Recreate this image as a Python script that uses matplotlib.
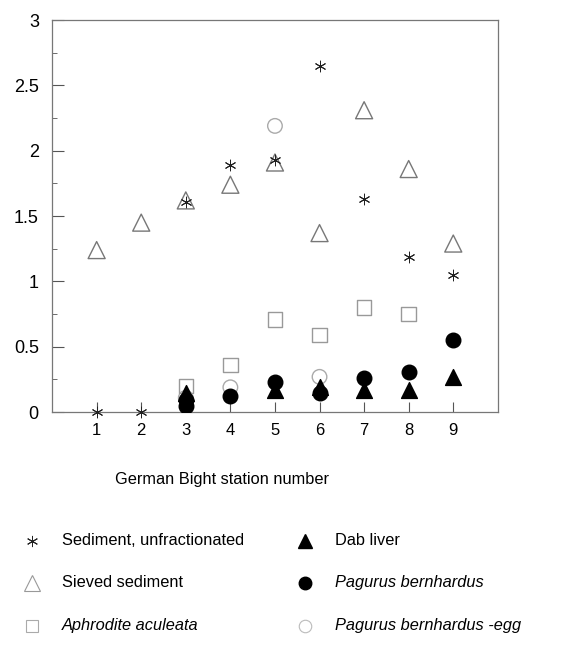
import numpy as np
import matplotlib.pyplot as plt
from matplotlib.lines import Line2D

plt.rcParams['font.family'] = ['Liberation Sans', 'DejaVu Sans']
plt.rcParams['xtick.direction'] = 'in'
plt.rcParams['ytick.direction'] = 'in'

# data
stations = [1, 2, 3, 4, 5, 6, 7, 8, 9]
sediment = [0.0, 0.0, 1.61, 1.89, 1.93, 2.65, 1.63, 1.19, 1.05]
sieved = [1.24, 1.45, 1.62, 1.74, 1.91, 1.37, 2.31, 1.86, 1.29]
aphro_x = [3, 4, 5, 6, 7, 8]
aphrodite = [0.20, 0.36, 0.71, 0.59, 0.80, 0.75]
egg_x = [3, 4, 5, 6]
pagurus_egg = [0.11, 0.19, 2.19, 0.27]
dab_x = [3, 5, 6, 7, 8, 9]
dab_liver = [0.15, 0.17, 0.19, 0.17, 0.17, 0.27]
pag_x = [3, 3, 4, 5, 6, 7, 8, 9]
pagurus = [0.05, 0.09, 0.12, 0.23, 0.15, 0.26, 0.31, 0.55]

fig = plt.figure(figsize=(5.85, 6.46), dpi=100)
ax = fig.add_axes([0.089, 0.362, 0.762, 0.607])

ax.scatter(egg_x, pagurus_egg, marker='o', s=110, facecolors='none', edgecolors='#aaaaaa', linewidths=1.0, zorder=2)
ax.scatter(aphro_x, aphrodite, marker='s', s=110, facecolors='none', edgecolors='#999999', linewidths=1.0, zorder=2)
ax.scatter(stations, sieved, marker='^', s=150, facecolors='none', edgecolors='#777777', linewidths=1.0, zorder=2)
ax.scatter(dab_x, dab_liver, marker='^', s=130, color='black', zorder=3)
ax.scatter(pag_x, pagurus, marker='o', s=110, color='black', zorder=3)
ax.scatter(stations, sediment, marker=(6, 2, 0), s=60, color='#222222', linewidths=0.7, zorder=4, clip_on=False)

ax.set_xlim(0, 10)
ax.set_ylim(0, 3)
ax.set_xticks(stations)
ax.set_yticks([0, 0.5, 1, 1.5, 2, 2.5, 3])
ax.set_yticklabels(['0', '0.5', '1', '1.5', '2', '2.5', '3'])
ax.set_yticks(np.arange(0.25, 3, 0.5), minor=True)
ax.tick_params(axis='both', which='both', direction='in', color='#555555')
ax.tick_params(axis='y', which='major', length=8.5, pad=9.5, labelsize=13)
ax.tick_params(axis='y', which='minor', length=3.6)
ax.tick_params(axis='x', length=7, pad=8, labelsize=12)
for sp in ax.spines.values():
    sp.set_color('#777777')
    sp.set_linewidth(0.9)

fig.text(0.38, 0.257, 'German Bight station number', ha='center', va='center', fontsize=11.8)

# legend drawn by hand in two columns
labels = [
    ('Sediment, unfractionated', 'normal'),
    ('Sieved sediment', 'normal'),
    ('Aphrodite aculeata', 'italic'),
    ('Dab liver', 'normal'),
    ('Pagurus bernhardus', 'italic'),
    ('Pagurus bernhardus -egg', 'italic'),
]
handles = [
    Line2D([], [], marker=(6, 2, 0), ls='none', color='#222222', markersize=8, markeredgewidth=0.7),
    Line2D([], [], marker='^', ls='none', markerfacecolor='none', markeredgecolor='#999999', markersize=11, markeredgewidth=0.8),
    Line2D([], [], marker='s', ls='none', markerfacecolor='none', markeredgecolor='#aaaaaa', markersize=9, markeredgewidth=0.8),
    Line2D([], [], marker='^', ls='none', color='black', markersize=10),
    Line2D([], [], marker='o', ls='none', color='black', markersize=9),
    Line2D([], [], marker='o', ls='none', markerfacecolor='none', markeredgecolor='#bbbbbb', markersize=9, markeredgewidth=0.8),
]
col_x = [0.055, 0.522]
row_y = [0.163, 0.098, 0.031]
for i, ((txt, style), h) in enumerate(zip(labels, handles)):
    cx = col_x[i // 3]
    cy = row_y[i % 3]
    mk = Line2D([cx], [cy], transform=fig.transFigure, marker=h.get_marker(), ls='none',
                markersize=h.get_markersize(), markerfacecolor=h.get_markerfacecolor(),
                markeredgecolor=h.get_markeredgecolor(), markeredgewidth=h.get_markeredgewidth())
    fig.add_artist(mk)
    fig.text(cx + 0.051, cy, txt, ha='left', va='center', fontsize=11.8, style=style)

fig.savefig('out.png', dpi=100, facecolor='white')
